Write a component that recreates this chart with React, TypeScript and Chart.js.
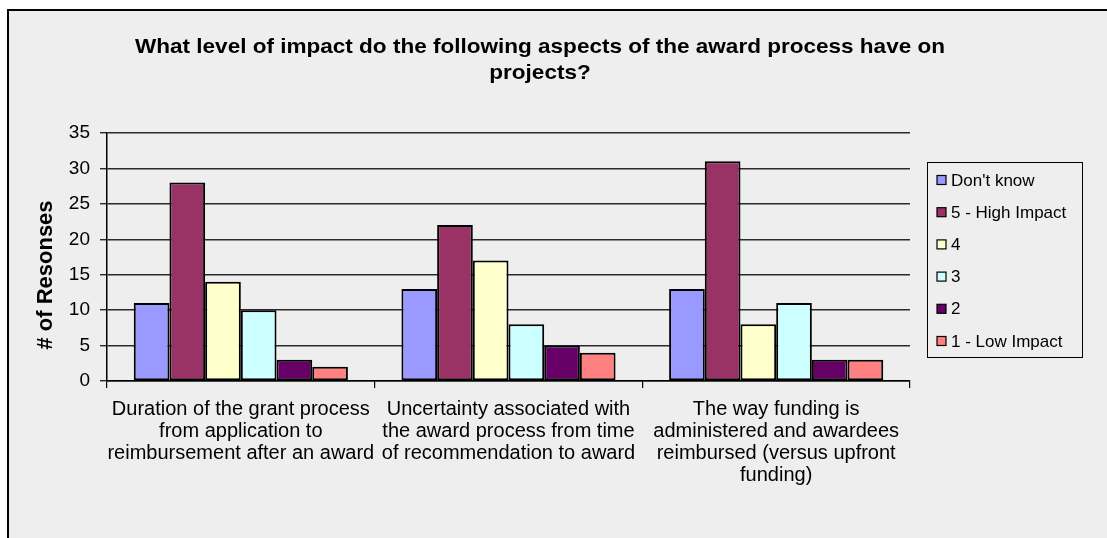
import React, { useEffect, useRef } from "react";
import { Chart, registerables } from "chart.js";

Chart.register(...registerables);

const categories: string[][] = [
  ["Duration of the grant process", "from application to", "reimbursement after an award"],
  ["Uncertainty associated with", "the award process from time", "of recommendation to award"],
  ["The way funding is", "administered and awardees", "reimbursed (versus upfront", "funding)"],
];

const seriesNames = ["Don't know", "5 - High Impact", "4", "3", "2", "1 - Low Impact"];
const seriesColors = ["#9999FF", "#993366", "#FFFFCC", "#CCFFFF", "#660066", "#FF8080"];

const dontKnow = [11, 13, 13];
const highImpact = [28, 22, 31];
const four = [14, 17, 8];
const three = [10, 8, 11];
const two = [3, 5, 3];
const lowImpact = [2, 4, 3];

const yTicks = [0, 5, 10, 15, 20, 25, 30, 35];

const titleLines = [
  "What level of impact do the following aspects of the award process have on",
  "projects?",
];
const yAxisTitle = "# of Resonses";

const FONT = "'Liberation Sans', Arial, sans-serif";

const overlayPlugin = {
  id: "overlay",
  afterDraw(chart: any) {
    const ctx = chart.ctx as CanvasRenderingContext2D;
    // Title
    ctx.save();
    ctx.fillStyle = "#000";
    ctx.textBaseline = "alphabetic";
    ctx.textAlign = "center";
    ctx.font = `bold 21px ${FONT}`;
    const w0 = ctx.measureText(titleLines[0]).width;
    const sx = 810 / w0;
    const cx = 540;
    const baselines = [53, 79];
    titleLines.forEach((line, i) => {
      ctx.save();
      ctx.translate(cx, baselines[i]);
      ctx.scale(sx, 1);
      ctx.fillText(line, 0, 0);
      ctx.restore();
    });
    ctx.restore();

    // Y axis title
    ctx.save();
    ctx.fillStyle = "#000";
    ctx.font = `bold 22px ${FONT}`;
    ctx.textAlign = "center";
    ctx.textBaseline = "middle";
    ctx.translate(46, 275);
    ctx.rotate(-Math.PI / 2);
    ctx.fillText(yAxisTitle, 0, 0);
    ctx.restore();

    // Legend
    ctx.save();
    const lx = 927, ly = 162, lw = 155, lh = 195;
    ctx.strokeStyle = "#000";
    ctx.lineWidth = 1;
    ctx.strokeRect(lx + 0.5, ly + 0.5, lw, lh);
    ctx.font = `17px ${FONT}`;
    ctx.textAlign = "left";
    ctx.textBaseline = "middle";
    chart.data.datasets.forEach((ds: any, i: number) => {
      const y = 180 + i * 32.2;
      ctx.fillStyle = ds.backgroundColor;
      ctx.fillRect(937, y - 4.5, 9, 9);
      ctx.strokeStyle = "#000";
      ctx.lineWidth = 1.2;
      ctx.strokeRect(937, y - 4.5, 9, 9);
      ctx.fillStyle = "#000";
      ctx.fillText(ds.label, 951, y + 1);
    });
    ctx.restore();
  },
};

export default function App() {
  const ref = useRef<HTMLCanvasElement | null>(null);

  useEffect(() => {
    if (!ref.current) return;
    const values = [dontKnow, highImpact, four, three, two, lowImpact];
    const chart = new Chart(ref.current, {
      type: "bar",
      data: {
        labels: categories as any,
        datasets: seriesNames.map((name, i) => ({
          label: name,
          data: values[i],
          backgroundColor: seriesColors[i],
          borderColor: "#000",
          borderWidth: 2,
          borderSkipped: false,
          categoryPercentage: 0.8,
          barPercentage: 1.0,
        })),
      },
      options: {
        responsive: false,
        animation: false,
        layout: { padding: { left: 27, right: 197, top: 133, bottom: 0 } },
        plugins: {
          legend: { display: false },
          title: { display: false },
          tooltip: { enabled: false },
        },
        scales: {
          x: {
            afterFit: (scale: any) => {
              scale.height = 157;
            },
            grid: {
              offset: true,
              drawOnChartArea: false,
              drawTicks: true,
              tickLength: 7,
              color: "#000",
              lineWidth: 1.2,
            },
            border: { display: true, color: "#000", width: 1.5 },
            ticks: {
              color: "#000",
              padding: 10,
              maxRotation: 0,
              autoSkip: false,
              font: { family: FONT, size: 20, lineHeight: "22px" as any },
            },
          },
          y: {
            min: 0,
            max: 35,
            afterFit: (scale: any) => {
              scale.width = 80;
            },
            afterBuildTicks: (scale: any) => {
              scale.ticks = yTicks.map((v) => ({ value: v }));
            },
            grid: {
              color: "#2a2a2a",
              lineWidth: 1.4,
              drawTicks: true,
              tickLength: 7,
            },
            border: { display: true, color: "#000", width: 1.5 },
            ticks: {
              color: "#000",
              padding: 10,
              font: { family: FONT, size: 19 },
            },
          },
        },
      },
      plugins: [overlayPlugin],
    });
    return () => chart.destroy();
  }, []);

  return (
    <div style={{ position: "fixed", left: 0, top: 0, width: "100vw", height: "100vh", background: "#fff", overflow: "hidden" }}>
      <div
        style={{
          position: "absolute",
          left: 7,
          top: 9,
          right: 0,
          bottom: 0,
          background: "#eeeeee",
          borderTop: "2px solid #000",
          borderLeft: "2px solid #000",
        }}
      />
      <canvas ref={ref} width={1107} height={538} style={{ position: "absolute", left: 0, top: 0 }} />
    </div>
  );
}
